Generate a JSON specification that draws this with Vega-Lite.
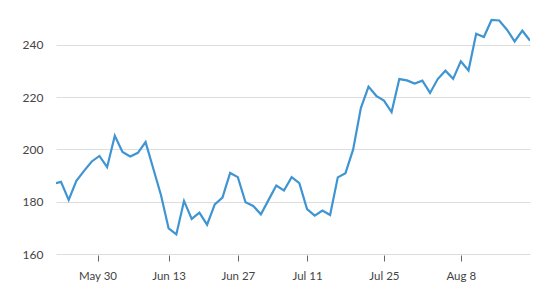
{
  "$schema": "https://vega.github.io/schema/vega-lite/v6.json",
  "width": 474,
  "height": 251,
  "autosize": {"type": "none"},
  "padding": {"left": 56, "top": 3, "right": 11, "bottom": 37},
  "background": "white",
  "config": {
    "view": {"stroke": null},
    "font": "Lato"
  },
  "data": {
    "values": [
      {"i": 0, "date": "2022-05-20", "price": 186.8},
      {"i": 1, "date": "2022-05-23", "price": 187.6},
      {"i": 2, "date": "2022-05-24", "price": 180.7},
      {"i": 3, "date": "2022-05-25", "price": 188.0},
      {"i": 4, "date": "2022-05-26", "price": 191.8},
      {"i": 5, "date": "2022-05-27", "price": 195.4},
      {"i": 6, "date": "2022-05-31", "price": 197.5},
      {"i": 7, "date": "2022-06-01", "price": 193.2},
      {"i": 8, "date": "2022-06-02", "price": 205.2},
      {"i": 9, "date": "2022-06-03", "price": 199.0},
      {"i": 10, "date": "2022-06-06", "price": 197.3},
      {"i": 11, "date": "2022-06-07", "price": 198.7},
      {"i": 12, "date": "2022-06-08", "price": 202.8},
      {"i": 13, "date": "2022-06-09", "price": 192.7},
      {"i": 14, "date": "2022-06-10", "price": 182.6},
      {"i": 15, "date": "2022-06-13", "price": 169.8},
      {"i": 16, "date": "2022-06-14", "price": 167.5},
      {"i": 17, "date": "2022-06-15", "price": 180.3},
      {"i": 18, "date": "2022-06-16", "price": 173.4},
      {"i": 19, "date": "2022-06-17", "price": 175.8},
      {"i": 20, "date": "2022-06-21", "price": 171.2},
      {"i": 21, "date": "2022-06-22", "price": 179.0},
      {"i": 22, "date": "2022-06-23", "price": 181.6},
      {"i": 23, "date": "2022-06-24", "price": 191.0},
      {"i": 24, "date": "2022-06-27", "price": 189.4},
      {"i": 25, "date": "2022-06-28", "price": 179.8},
      {"i": 26, "date": "2022-06-29", "price": 178.4},
      {"i": 27, "date": "2022-06-30", "price": 175.2},
      {"i": 28, "date": "2022-07-01", "price": 180.7},
      {"i": 29, "date": "2022-07-05", "price": 186.2},
      {"i": 30, "date": "2022-07-06", "price": 184.3},
      {"i": 31, "date": "2022-07-07", "price": 189.4},
      {"i": 32, "date": "2022-07-08", "price": 187.1},
      {"i": 33, "date": "2022-07-11", "price": 177.2},
      {"i": 34, "date": "2022-07-12", "price": 174.7},
      {"i": 35, "date": "2022-07-13", "price": 176.6},
      {"i": 36, "date": "2022-07-14", "price": 174.9},
      {"i": 37, "date": "2022-07-15", "price": 189.3},
      {"i": 38, "date": "2022-07-18", "price": 190.9},
      {"i": 39, "date": "2022-07-19", "price": 200.0},
      {"i": 40, "date": "2022-07-20", "price": 215.8},
      {"i": 41, "date": "2022-07-21", "price": 224.0},
      {"i": 42, "date": "2022-07-22", "price": 220.5},
      {"i": 43, "date": "2022-07-25", "price": 218.7},
      {"i": 44, "date": "2022-07-26", "price": 214.3},
      {"i": 45, "date": "2022-07-27", "price": 226.9},
      {"i": 46, "date": "2022-07-28", "price": 226.4},
      {"i": 47, "date": "2022-07-29", "price": 225.2},
      {"i": 48, "date": "2022-08-01", "price": 226.3},
      {"i": 49, "date": "2022-08-02", "price": 221.6},
      {"i": 50, "date": "2022-08-03", "price": 226.9},
      {"i": 51, "date": "2022-08-04", "price": 230.1},
      {"i": 52, "date": "2022-08-05", "price": 227.0},
      {"i": 53, "date": "2022-08-08", "price": 233.7},
      {"i": 54, "date": "2022-08-09", "price": 230.2},
      {"i": 55, "date": "2022-08-10", "price": 244.2},
      {"i": 56, "date": "2022-08-11", "price": 243.0},
      {"i": 57, "date": "2022-08-12", "price": 249.5},
      {"i": 58, "date": "2022-08-15", "price": 249.3},
      {"i": 59, "date": "2022-08-16", "price": 245.8},
      {"i": 60, "date": "2022-08-17", "price": 241.3},
      {"i": 61, "date": "2022-08-18", "price": 245.4},
      {"i": 62, "date": "2022-08-19", "price": 241.6}
    ]
  },
  "mark": {"type": "line", "color": "#3f94d2", "strokeWidth": 2.2, "clip": true, "strokeJoin": "miter"},
  "encoding": {
    "x": {
      "field": "i",
      "type": "quantitative",
      "scale": {"domain": [0.35, 62], "nice": false, "zero": false},
      "axis": {
        "title": null,
        "values": [5.75, 15, 24, 33, 43, 53],
        "labelExpr": "datum.value == 5.75 ? 'May 30' : datum.value == 15 ? 'Jun 13' : datum.value == 24 ? 'Jun 27' : datum.value == 33 ? 'Jul 11' : datum.value == 43 ? 'Jul 25' : 'Aug 8'",
        "grid": false,
        "domain": false,
        "ticks": true,
        "tickSize": 6,
        "tickColor": "#666666",
        "tickWidth": 1,
        "offset": 1,
        "labelFontSize": 11.5,
        "labelColor": "#444444",
        "labelPadding": 9,
        "labelFlush": false
      }
    },
    "y": {
      "field": "price",
      "type": "quantitative",
      "scale": {"domain": [160, 256], "nice": false, "zero": false},
      "axis": {
        "title": null,
        "values": [160, 180, 200, 220, 240],
        "grid": true,
        "gridColor": "#dddddd",
        "gridWidth": 1,
        "domain": false,
        "ticks": false,
        "labelFontSize": 12,
        "labelColor": "#444444",
        "labelPadding": 13
      }
    }
  }
}
